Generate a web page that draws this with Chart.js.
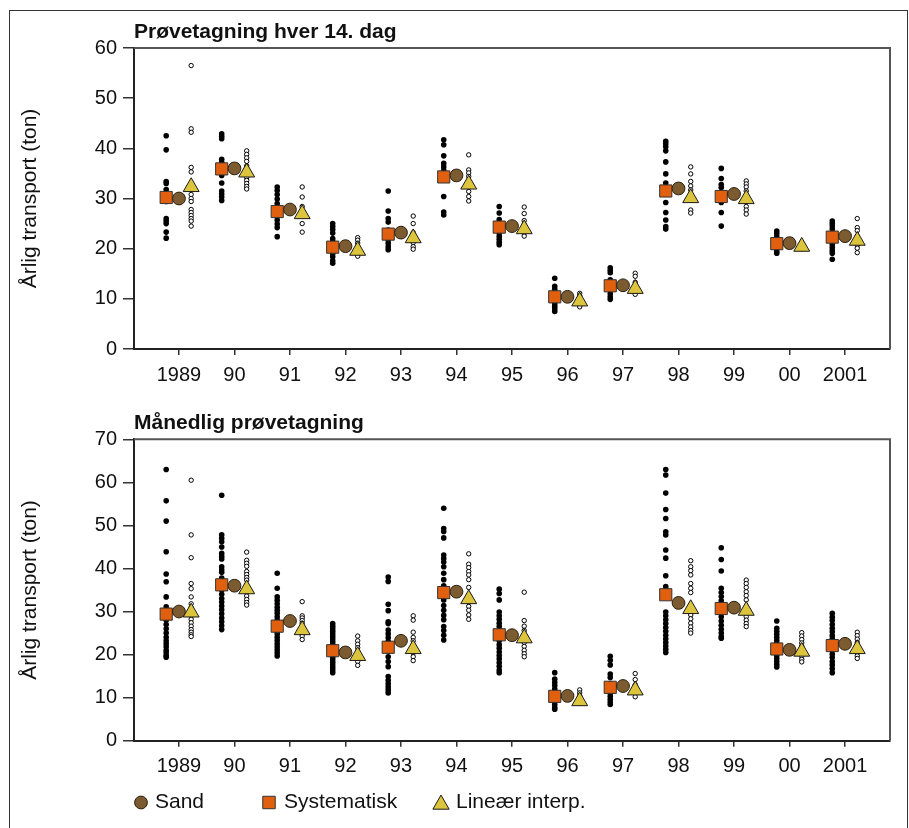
<!DOCTYPE html>
<html>
<head>
<meta charset="utf-8">
<script src="https://cdn.jsdelivr.net/npm/chart.js@4.4.1/dist/chart.umd.min.js"></script>
<style>
  html, body { margin: 0; padding: 0; background: #fff; }
  #wrap { position: relative; width: 909px; height: 828px; overflow: hidden; }
  #frame { position: absolute; left: 9px; top: 10px; width: 899px; height: 840px;
           border: 1px solid #333; box-sizing: border-box; }
  canvas { position: absolute; left: 0; }
</style>
</head>
<body>
<div id="wrap">
  <div id="frame"></div>
  <canvas id="biweekly" width="909" height="400" style="top:0"></canvas>
  <canvas id="monthly" width="909" height="428" style="top:400px"></canvas>
</div>
<script>
// Years on the x axis
const years = ['1989', '90', '91', '92', '93', '94', '95', '96', '97', '98', '99', '00', '2001'];

// True annual sand transport (ton)
const sand = [30.0, 36.0, 27.8, 20.5, 23.2, 34.6, 24.5, 10.4, 12.7, 32.0, 30.9, 21.1, 22.5];

// Mean estimates, sampling every 14th day
const biweeklySystematic = [30.2, 35.9, 27.4, 20.3, 22.9, 34.3, 24.3, 10.4, 12.6, 31.5, 30.4, 21.0, 22.3];
const biweeklyLinear     = [32.3, 35.2, 26.9, 19.6, 22.1, 32.8, 23.9, 9.5, 12.0, 30.1, 29.9, 20.4, 21.6];

// Mean estimates, monthly sampling
const monthlySystematic = [29.4, 36.2, 26.6, 20.9, 21.7, 34.4, 24.6, 10.3, 12.4, 33.9, 30.7, 21.3, 22.1];
const monthlyLinear     = [29.8, 35.2, 25.7, 19.7, 21.3, 32.9, 23.8, 9.2, 11.7, 30.6, 30.2, 20.7, 21.3];

// Single-run estimates for each possible start day, 14-day sampling (one list per year)
const biweeklySystematicRuns = [
  [42.5, 39.7, 33.4, 33.0, 31.8, 30.8, 29.4, 26.0, 25.5, 25.0, 23.3, 22.1],
  [42.9, 42.4, 41.9, 37.8, 37.2, 36.2, 34.6, 33.1, 31.5, 30.9, 30.3, 29.6],
  [32.3, 31.6, 30.8, 29.9, 29.0, 28.2, 27.0, 25.7, 24.9, 24.2, 22.4],
  [25.0, 24.4, 23.8, 23.1, 22.0, 21.4, 20.3, 19.6, 19.0, 18.4, 17.6, 17.1],
  [31.5, 27.5, 26.0, 25.3, 23.7, 22.5, 21.8, 21.1, 20.4, 19.8],
  [41.7, 40.7, 38.5, 37.0, 36.3, 35.6, 34.8, 33.8, 30.4, 27.3, 26.7],
  [28.4, 27.1, 25.8, 24.6, 23.1, 22.5, 21.9, 21.3, 20.8],
  [14.1, 12.5, 11.9, 11.3, 10.7, 10.1, 9.5, 9.0, 8.5, 8.0, 7.5],
  [16.2, 15.7, 15.2, 13.8, 12.6, 11.7, 11.0, 10.4, 9.9],
  [41.4, 40.9, 40.3, 39.5, 37.3, 34.9, 33.1, 31.6, 29.2, 27.2, 25.7, 24.4, 23.9],
  [36.0, 34.0, 32.8, 32.2, 31.0, 30.1, 29.2, 27.2, 24.5],
  [23.5, 23.0, 22.4, 21.8, 21.2, 20.6, 20.0, 19.5, 19.1],
  [25.5, 25.0, 24.5, 23.9, 23.2, 22.5, 21.5, 20.8, 20.2, 19.6, 19.1, 17.9]
];
const biweeklyLinearRuns = [
  [56.5, 43.9, 43.2, 36.2, 35.3, 30.8, 30.0, 29.4, 27.8, 27.2, 26.6, 26.0, 25.5, 24.5],
  [39.5, 38.8, 38.1, 37.4, 36.5, 35.0, 34.2, 33.6, 33.0, 32.4, 31.9],
  [32.3, 30.3, 28.4, 27.6, 26.8, 25.0, 23.3],
  [22.2, 21.7, 21.1, 20.5, 19.8, 18.5],
  [26.5, 25.0, 23.2, 22.1, 21.2, 20.4, 19.9],
  [38.7, 35.7, 35.1, 34.4, 33.5, 32.3, 31.4, 30.4, 29.5],
  [28.3, 27.0, 25.6, 24.8, 23.6, 23.1, 22.5],
  [11.1, 10.6, 10.1, 9.5, 8.4],
  [15.1, 14.5, 13.3, 12.0, 10.9],
  [36.3, 34.9, 33.4, 32.5, 31.7, 30.6, 27.7, 27.1],
  [33.5, 32.9, 32.3, 31.5, 30.5, 29.3, 28.4, 27.7, 26.9],
  [21.2, 20.6, 20.0],
  [26.0, 24.2, 23.6, 22.5, 21.5, 20.7, 20.1, 19.2]
];

// Single-run estimates, monthly sampling
const monthlySystematicRuns = [
  [63.0, 55.7, 51.0, 43.9, 38.7, 36.9, 33.4, 31.1, 29.5, 28.0, 27.0, 26.0, 25.0, 24.0, 23.2, 22.5, 21.8, 21.0, 20.4, 19.8, 19.4],
  [57.0, 47.8, 47.0, 46.2, 45.0, 43.5, 42.8, 42.2, 40.4, 39.7, 39.1, 37.8, 36.5, 35.0, 34.0, 33.0, 32.2, 31.3, 30.4, 29.5, 28.5, 27.6, 26.7, 25.8],
  [38.9, 35.4, 33.4, 32.6, 31.8, 31.0, 30.3, 29.6, 28.8, 28.0, 26.5, 25.5, 24.8, 24.0, 23.3, 22.5, 21.8, 21.1, 20.4, 19.7],
  [27.2, 26.6, 26.0, 25.4, 24.8, 24.2, 23.6, 23.0, 22.4, 21.8, 21.2, 20.6, 20.0, 19.4, 18.8, 18.2, 17.6, 17.0, 16.4, 15.8],
  [38.0, 37.0, 31.7, 30.2, 27.6, 27.2, 25.7, 24.8, 23.9, 23.0, 21.8, 20.8, 19.5, 18.4, 17.2, 14.9, 14.0, 13.2, 12.5, 11.8, 11.1],
  [54.0, 49.3, 48.6, 47.1, 43.1, 42.3, 41.5, 40.4, 38.9, 37.4, 36.0, 34.5, 32.7, 31.4, 30.3, 29.1, 28.1, 26.5, 25.6, 24.5, 23.4],
  [35.2, 34.2, 32.7, 29.9, 29.0, 28.2, 27.3, 26.5, 25.6, 24.8, 24.0, 23.2, 22.3, 21.5, 20.6, 19.8, 19.0, 18.1, 17.3, 16.4, 15.8],
  [15.8, 14.3, 13.5, 12.8, 12.0, 11.2, 10.5, 9.8, 9.1, 8.4, 7.7, 7.3],
  [19.6, 18.7, 17.6, 15.5, 14.7, 13.3, 12.5, 11.7, 11.0, 10.3, 9.6, 9.0, 8.4],
  [63.0, 61.7, 57.5, 53.7, 51.6, 48.5, 47.8, 44.3, 42.4, 38.3, 35.8, 33.9, 29.9, 29.0, 28.1, 27.2, 26.3, 25.4, 24.5, 23.6, 22.8, 22.0, 21.2, 20.5],
  [44.8, 42.1, 39.4, 35.4, 34.4, 33.5, 32.5, 31.6, 30.6, 29.7, 28.8, 27.8, 26.8, 25.9, 25.0, 24.2, 23.8],
  [27.8, 26.1, 25.4, 24.7, 24.0, 23.3, 22.6, 21.9, 21.2, 20.5, 19.8, 19.1, 18.4, 17.7, 17.1],
  [29.6, 28.7, 27.9, 27.0, 26.1, 25.3, 24.4, 23.6, 22.7, 21.9, 21.0, 20.1, 19.3, 18.4, 17.6, 16.7, 15.8]
];
const monthlyLinearRuns = [
  [60.5, 47.8, 42.5, 36.5, 35.3, 33.4, 31.8, 30.9, 30.0, 29.0, 28.2, 27.4, 26.6, 25.8, 25.2, 24.6, 24.2],
  [43.8, 41.9, 41.2, 40.5, 39.3, 38.6, 37.9, 37.3, 36.2, 35.3, 34.5, 33.6, 32.8, 32.1, 31.5],
  [32.3, 29.0, 28.5, 27.9, 27.3, 26.5, 25.7, 25.0, 24.3, 23.5],
  [24.3, 23.2, 22.4, 21.6, 20.8, 20.0, 19.2, 18.4, 17.5],
  [29.0, 28.0, 25.2, 24.0, 23.2, 22.2, 21.3, 20.4, 19.5, 18.6],
  [43.4, 41.0, 40.2, 39.3, 38.5, 37.4, 35.6, 33.1, 32.2, 31.2, 30.3, 29.2, 28.2],
  [34.5, 27.9, 26.6, 25.6, 24.6, 23.6, 22.8, 21.9, 21.0, 20.2, 19.5],
  [11.8, 11.1, 10.4, 9.8, 9.2, 8.7],
  [15.6, 14.2, 13.0, 12.0, 11.0, 10.2],
  [41.8, 40.4, 39.5, 38.5, 36.5, 35.4, 34.4, 30.2, 29.2, 28.3, 27.3, 26.4, 25.6, 25.0],
  [37.3, 36.5, 35.6, 34.6, 33.7, 32.7, 31.0, 29.6, 28.8, 28.0, 27.2, 26.5],
  [25.1, 24.3, 23.5, 22.7, 22.0, 21.2, 20.4, 19.6, 18.9, 18.3],
  [25.2, 24.4, 23.6, 22.8, 22.0, 21.2, 20.4, 19.7, 19.1]
];

// ---- presentation ----
const FONT = "'Liberation Sans', Arial, Helvetica, sans-serif";
const INK = '#111';
const SYS_SHIFT = -0.23;   // systematic markers sit left of the year
const LIN_SHIFT = 0.22;    // interpolation markers sit right of the year

const COLORS = { sand: '#7D5B30', systematic: '#E0600F', linear: '#DCC43C' };

function atYears(values, shift) {
  return values.map((v, i) => ({ x: i + shift, y: v }));
}
function spread(runs, shift) {
  const pts = [];
  runs.forEach((vals, i) => vals.forEach(v => pts.push({ x: i + shift, y: v })));
  return pts;
}

function pointSet(label, data, style, radius, fill, stroke, bw, order) {
  return {
    label, data, order,
    pointStyle: style, pointRadius: radius, pointHoverRadius: radius,
    pointBackgroundColor: fill, pointBorderColor: stroke, pointBorderWidth: bw,
    backgroundColor: fill, borderColor: stroke, showLine: false
  };
}

function panelDatasets(sysRuns, linRuns, sysMean, linMean) {
  return [
    pointSet('Lineær interp.', atYears(linMean, LIN_SHIFT), 'triangle', 9.2, COLORS.linear, '#1a1a1a', 1, 0),
    pointSet('Sand', atYears(sand, 0), 'circle', 6.4, COLORS.sand, '#2b1f0e', 1, 1),
    pointSet('Systematisk', atYears(sysMean, SYS_SHIFT), 'rect', 8.6, COLORS.systematic, '#333', 1, 2),
    pointSet('Lineær interp., enkeltserier', spread(linRuns, LIN_SHIFT), 'circle', 2.2, '#fff', '#000', 1, 3),
    pointSet('Systematisk, enkeltserier', spread(sysRuns, SYS_SHIFT), 'circle', 2.8, '#000', '#000', 0, 4)
  ];
}

// gray top/right edges of the plot box plus the panel heading
const boxPlugin = {
  id: 'box',
  beforeDatasetsDraw(chart) {
    const { ctx, chartArea: a } = chart;
    ctx.save();
    ctx.strokeStyle = '#555';
    ctx.lineWidth = 2;
    ctx.beginPath();
    ctx.moveTo(a.left, a.top);
    ctx.lineTo(a.right, a.top);
    ctx.lineTo(a.right, a.bottom);
    ctx.stroke();
    ctx.restore();
  },
  afterDraw(chart, args, opts) {
    const { ctx, chartArea: a } = chart;
    ctx.save();
    ctx.fillStyle = INK;
    ctx.font = 'bold 21px ' + FONT;
    ctx.textAlign = 'left';
    ctx.textBaseline = 'alphabetic';
    ctx.fillText(opts.heading, a.left, a.top - 10.4);
    ctx.restore();
  }
};

// key below the monthly panel
const keyPlugin = {
  id: 'key',
  afterDraw(chart, args, opts) {
    if (!opts.show) return;
    const { ctx } = chart;
    const y = 402.5;
    const items = [
      { text: 'Sand', style: 'circle', r: 6.4, fill: COLORS.sand, stroke: '#2b1f0e', mx: 141, tx: 155 },
      { text: 'Systematisk', style: 'rect', r: 8.8, fill: COLORS.systematic, stroke: '#333', mx: 269, tx: 284 },
      { text: 'Lineær interp.', style: 'triangle', r: 9.4, fill: COLORS.linear, stroke: '#1a1a1a', mx: 441, tx: 456 }
    ];
    ctx.save();
    items.forEach(it => {
      ctx.fillStyle = it.fill;
      ctx.strokeStyle = it.stroke;
      ctx.lineWidth = 1;
      Chart.helpers.drawPoint(ctx, { pointStyle: it.style, radius: it.r, rotation: 0, borderWidth: 1 },
        it.mx, it.style === 'triangle' ? y + 2 : y);
      ctx.fillStyle = INK;
      ctx.font = '21px ' + FONT;
      ctx.textAlign = 'left';
      ctx.textBaseline = 'middle';
      ctx.fillText(it.text, it.tx, y);
    });
    ctx.restore();
  }
};

function makeChart(canvasId, heading, yMax, topPad, bottomPad, datasets, showKey) {
  return new Chart(document.getElementById(canvasId), {
    type: 'scatter',
    data: { datasets },
    plugins: [boxPlugin, keyPlugin],
    options: {
      responsive: false,
      animation: false,
      devicePixelRatio: 1,
      layout: { padding: { left: 0, right: 19, top: topPad, bottom: bottomPad } },
      plugins: {
        legend: { display: false },
        tooltip: { enabled: false },
        box: { heading },
        key: { show: showKey }
      },
      scales: {
        x: {
          type: 'linear',
          min: -0.81,
          max: 12.81,
          afterBuildTicks: s => { s.ticks = years.map((_, i) => ({ value: i })); },
          afterFit: s => { s.height = 40; },
          ticks: {
            callback: v => years[v] ?? '',
            autoSkip: false, maxRotation: 0, padding: 8,
            color: INK, font: { family: FONT, size: 20 }
          },
          grid: { drawOnChartArea: false, tickLength: 6, color: '#333', lineWidth: 1.5 },
          border: { display: true, color: '#222', width: 2 }
        },
        y: {
          min: 0,
          max: yMax,
          afterFit: s => { s.width = 134; },
          ticks: { stepSize: 10, padding: 6, color: INK, font: { family: FONT, size: 20 } },
          grid: { drawOnChartArea: false, tickLength: 11, color: '#333', lineWidth: 1.5 },
          border: { display: true, color: '#222', width: 2 },
          title: {
            display: true, text: 'Årlig transport (ton)', color: INK,
            font: { family: FONT, size: 21 }, padding: { top: 18, bottom: 0 }
          }
        }
      }
    }
  });
}

makeChart('biweekly', 'Prøvetagning hver 14. dag', 60, 48, 11,
  panelDatasets(biweeklySystematicRuns, biweeklyLinearRuns, biweeklySystematic, biweeklyLinear), false);

makeChart('monthly', 'Månedlig prøvetagning', 70, 39.3, 47.3,
  panelDatasets(monthlySystematicRuns, monthlyLinearRuns, monthlySystematic, monthlyLinear), true);
</script>
</body>
</html>
